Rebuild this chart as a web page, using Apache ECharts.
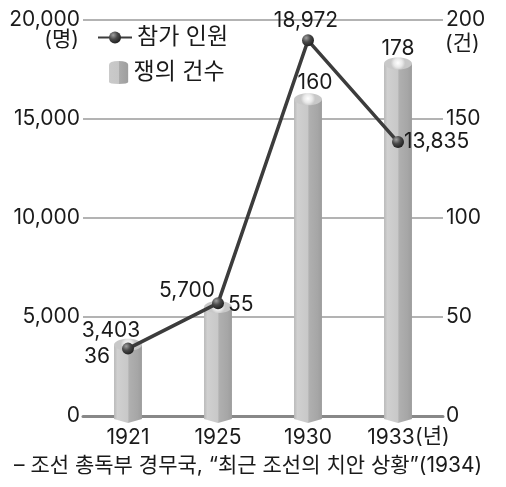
<!DOCTYPE html>
<html><head><meta charset="utf-8">
<script src="https://cdn.jsdelivr.net/npm/echarts@6/dist/echarts.min.js"></script>
<style>html,body{margin:0;padding:0;background:#fff}#c{width:506px;height:487px}</style>
</head><body><div id="c"></div>
<script>
const years = ['1921','1925','1930','1933'];
const participants = [3403, 5700, 18972, 13835];
const disputes = [36, 55, 160, 178];
const leftTicks = [0, 5000, 10000, 15000, 20000];
const rightTicks = [0, 50, 100, 150, 200];
const FONT = 'Inter, "Noto Sans CJK KR"';
const FONTCSS = 'Inter, "Noto Sans CJK KR"';
const TXT = '#1a1a1a';

// label style settings (not data)
const lineLabelCfg = [
  {align:'center', offset:[-17,-18]},
  {align:'right', offset:[-3,-12]},
  {align:'center', offset:[-2,-20]},
  {align:'left', offset:[6,0]}
];
const barLabelCfg = [
  {align:'right', dx:-18, dy:12},
  {align:'left', dx:10, dy:-2},
  {align:'center', dx:7, dy:-17},
  {align:'center', dx:0, dy:-15}
];
function fmt(n){return n.toLocaleString('en-US');}

const chart = echarts.init(document.getElementById('c'), null, {renderer:'canvas'});

function renderBar(params, api){
  const idx = api.value(0), v = api.value(1);
  const top = api.coord([idx, v]);
  const base = api.coord([idx, 0]);
  const w = api.size([1,0])[0]*0.31;
  const hw = w/2, x = top[0], yT = top[1], yB = base[1];
  const cfg = barLabelCfg[params.dataIndex];
  const bodyFill = new echarts.graphic.LinearGradient(0,0,1,0,[
    {offset:0,color:'#b8b8b8'},{offset:0.12,color:'#d0d0d0'},{offset:0.5,color:'#c8c8c8'},
    {offset:0.53,color:'#b0b0b0'},{offset:0.85,color:'#a6a6a6'},{offset:1,color:'#9c9c9c'}]);
  return {type:'group', children:[
    {type:'polygon', shape:{points:[[x-hw,yT],[x+hw,yT],[x+hw,yB+3],[x,yB+7],[x-hw,yB+3]]}, style:{fill:bodyFill}},
    {type:'ellipse', shape:{cx:x, cy:yT, rx:hw, ry:6},
      style:{fill:new echarts.graphic.RadialGradient(0.5,0.45,0.6,[{offset:0,color:'#ffffff'},{offset:0.6,color:'#e8e8e8'},{offset:1,color:'#c8c8c8'}])}},
    {type:'text', style:{text:String(v), x:x+cfg.dx, y:yT+cfg.dy, align:cfg.align, verticalAlign:'middle',
      font:'21px '+FONTCSS, fill:TXT}}
  ]};
}

const cylIcon = 'path://M0,4 Q0,0 10,0 Q20,0 20,4 L20,22 Q20,24 10,24 Q0,24 0,22 Z';

chart.setOption({
  animation:false,
  textStyle:{fontFamily:FONT, color:TXT},
  grid:{left:83, right:63, top:20, bottom:71},
  legend:[
    {data:[{name:'참가 인원'}], left:92, top:21, itemWidth:34, itemHeight:15, itemGap:0,
      textStyle:{fontSize:23, color:TXT, fontFamily:FONT}},
    {data:[{name:'쟁의 건수', icon:cylIcon,
      itemStyle:{color:new echarts.graphic.LinearGradient(0,0,1,0,[{offset:0,color:'#cacaca'},{offset:0.5,color:'#c6c6c6'},{offset:0.55,color:'#aaaaaa'},{offset:1,color:'#9e9e9e'}])}}],
      left:104, top:56, itemWidth:20, itemHeight:23, itemGap:0,
      textStyle:{fontSize:23, color:TXT, fontFamily:FONT}}
  ],
  xAxis:{type:'category', data:years, boundaryGap:true,
    axisLine:{lineStyle:{color:'#888', width:3}}, axisTick:{show:false},
    axisLabel:{fontSize:21, color:TXT, margin:11, fontFamily:FONT, interval:0, hideOverlap:false,
      formatter:v=> v===years[years.length-1] ? v+'{s|}' : v,
      rich:{s:{width:14}}}},
  yAxis:[
    {type:'value', min:0, max:20000, interval:5000, position:'left',
      axisLine:{show:false}, axisTick:{show:false},
      axisLabel:{fontSize:21, color:TXT, margin:3, fontFamily:FONT, formatter:v=>fmt(v)},
      splitLine:{lineStyle:{color:'#9a9a9a', width:1.5}}},
    {type:'value', min:0, max:200, interval:50, position:'right',
      axisLine:{show:false}, axisTick:{show:false},
      axisLabel:{fontSize:21, color:TXT, margin:3, fontFamily:FONT},
      splitLine:{show:false}}
  ],
  series:[
    {name:'쟁의 건수', type:'custom', yAxisIndex:1, renderItem:renderBar, z:3,
      itemStyle:{color:'#b8b8b8'},
      encode:{x:0, y:1},
      data:disputes.map((v,i)=>[i,v])},
    {name:'참가 인원', type:'line', yAxisIndex:0, z:5,
      data:participants.map((v,i)=>({value:v, label:{show:true, position:'inside', align:lineLabelCfg[i].align, offset:lineLabelCfg[i].offset,
        formatter:fmt(v), fontSize:21, color:TXT, fontFamily:FONT}})),
      symbol:'circle', symbolSize:12,
      lineStyle:{color:'#3c3c3c', width:3.5},
      itemStyle:{color:new echarts.graphic.RadialGradient(0.35,0.3,0.7,[{offset:0,color:'#a0a0a0'},{offset:0.5,color:'#4a4a4a'},{offset:1,color:'#222'}]), borderWidth:0}}
  ],
  graphic:[
    {type:'text', right:506-79, top:29, style:{text:'(명)', font:'21px '+FONTCSS, fill:TXT}},
    {type:'text', left:445, top:33, style:{text:'(건)', font:'21px '+FONTCSS, fill:TXT}},
    {type:'text', left:415, top:426, style:{text:'(년)', font:'21px '+FONTCSS, fill:TXT}},
    {type:'text', left:14, top:455, style:{text:'– 조선 총독부 경무국, “최근 조선의 치안 상황”(1934)', font:'21px '+FONTCSS, fill:TXT}}
  ]
});
</script></body></html>
